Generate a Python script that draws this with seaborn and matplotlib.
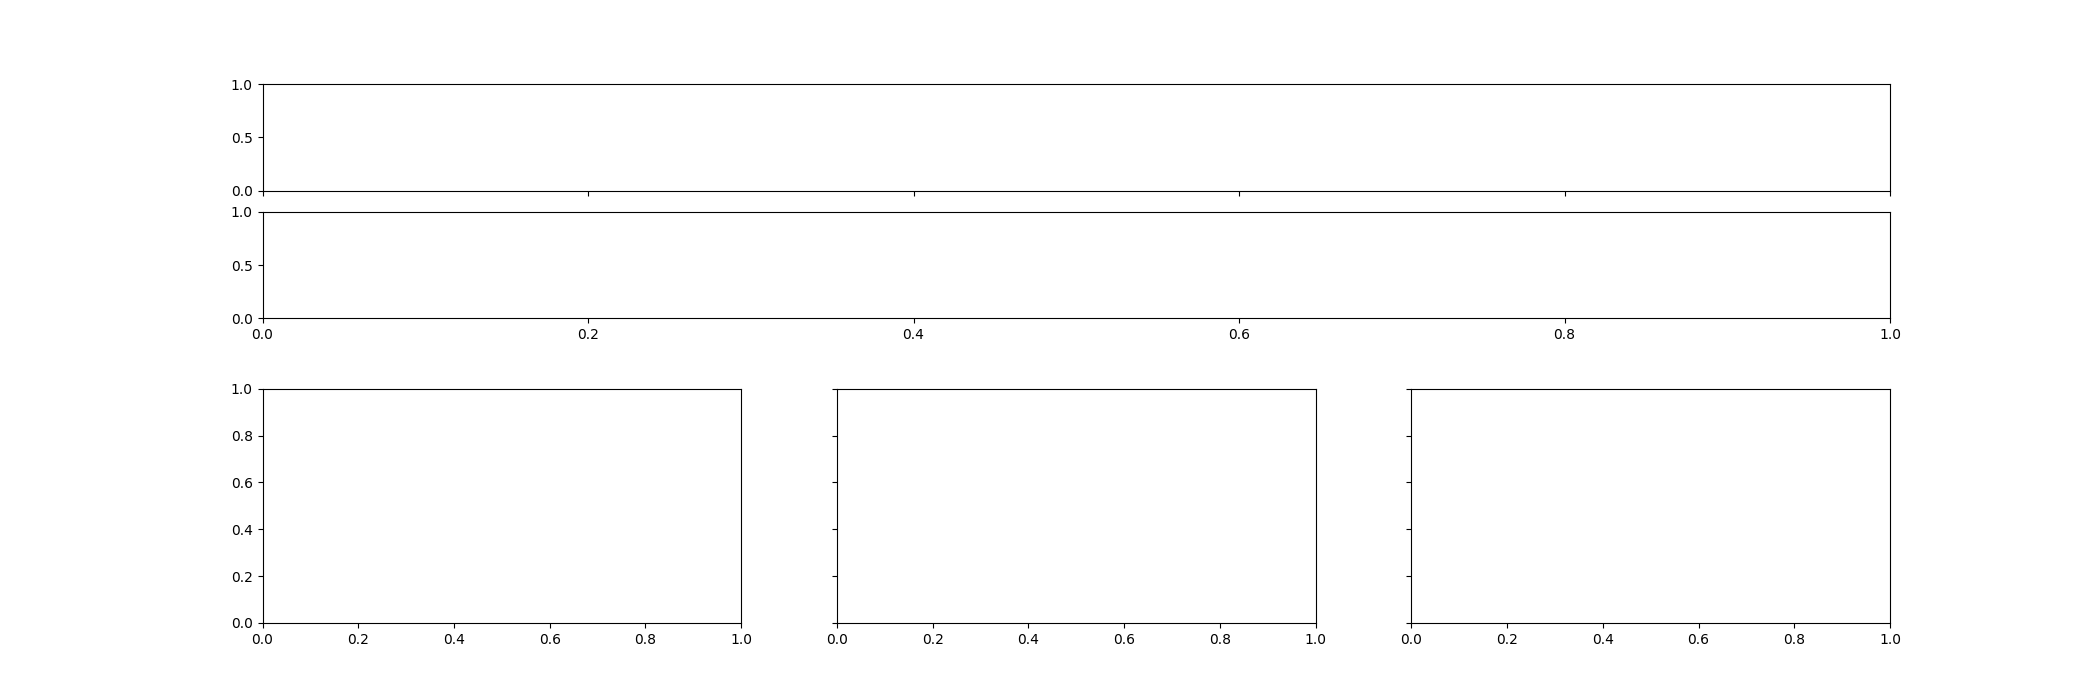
import matplotlib
matplotlib.use("Agg")
import matplotlib.pyplot as plt
import seaborn as sns

# The reference chart contains empty axes only (no plotted series).
top_panels = ["top", "middle"]
bottom_panels = ["left", "center", "right"]

fig = plt.figure(figsize=(21, 7), dpi=100)
outer = fig.add_gridspec(2, 1, hspace=0.3)
top_gs = outer[0].subgridspec(2, 1, hspace=0.2)
bot_gs = outer[1].subgridspec(1, 3, wspace=0.2)

ax_top = fig.add_subplot(top_gs[0])
ax_mid = fig.add_subplot(top_gs[1], sharex=ax_top)
ax_top.tick_params(labelbottom=False)

ax_b0 = fig.add_subplot(bot_gs[0])
ax_b1 = fig.add_subplot(bot_gs[1], sharey=ax_b0)
ax_b2 = fig.add_subplot(bot_gs[2], sharey=ax_b0)
ax_b1.tick_params(labelleft=False)
ax_b2.tick_params(labelleft=False)

for ax in [ax_top, ax_mid, ax_b0, ax_b1, ax_b2]:
    sns.despine(ax=ax, top=False, right=False, left=False, bottom=False)

fig.savefig("out.png", dpi=100)
